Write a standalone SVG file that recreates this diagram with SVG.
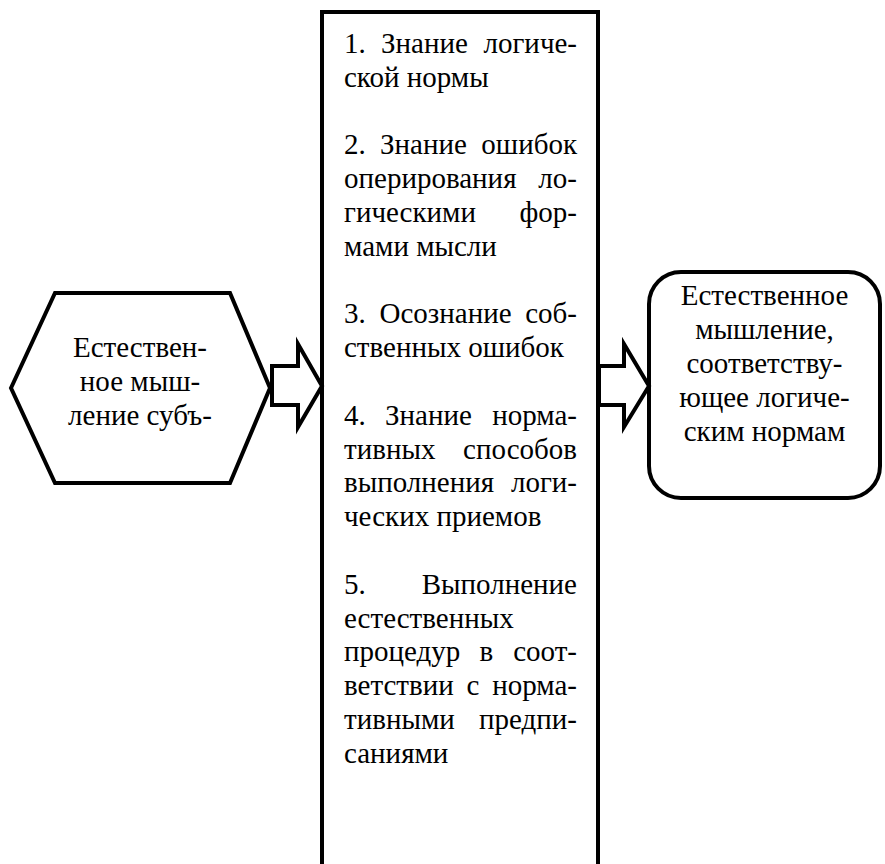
<svg xmlns="http://www.w3.org/2000/svg" width="885" height="864" viewBox="0 0 885 864">
<style>
.shape{fill:#fff;stroke:#000;stroke-width:4;stroke-linejoin:miter}
.t{font-family:"Liberation Serif","Times New Roman",serif;font-size:29px;fill:#000}
.c{text-anchor:middle}
.e{text-anchor:end}
</style>
<rect width="885" height="864" fill="#fff"/>
<g id="node-subject">
<polygon class="shape" points="11,388 55,293 230,293 270,388 230,483 55,483"/>
<text class="t c" x="140" y="357">Естествен-</text>
<text class="t c" x="140" y="391">ное мыш-</text>
<text class="t c" x="140" y="425">ление субъ-</text>
</g>
<g id="node-steps">
<rect class="shape" x="322" y="12" width="276" height="880"/>
<text class="t" x="344" y="53">1.</text><text class="t" x="381" y="53">Знание</text><text class="t e" x="577" y="53">логиче-</text>
<text class="t" x="344" y="86.8">ской нормы</text>
<text class="t" x="344" y="154.4">2.</text><text class="t" x="380" y="154.4">Знание</text><text class="t e" x="577" y="154.4">ошибок</text>
<text class="t" x="344" y="188.2">оперирования</text><text class="t e" x="577" y="188.2">ло-</text>
<text class="t" x="344" y="222">гическими</text><text class="t e" x="577" y="222">фор-</text>
<text class="t" x="344" y="255.8">мами мысли</text>
<text class="t" x="344" y="323.4">3.</text><text class="t" x="379.5" y="323.4">Осознание</text><text class="t e" x="577" y="323.4">соб-</text>
<text class="t" x="344" y="357.2">ственных ошибок</text>
<text class="t" x="344" y="424.8">4.</text><text class="t" x="385" y="424.8">Знание</text><text class="t e" x="577" y="424.8">норма-</text>
<text class="t" x="344" y="458.6">тивных</text><text class="t e" x="577" y="458.6">способов</text>
<text class="t" x="344" y="492.4">выполнения</text><text class="t e" x="577" y="492.4">логи-</text>
<text class="t" x="344" y="526.2">ческих приемов</text>
<text class="t" x="344" y="593.8">5.</text><text class="t e" x="577" y="593.8">Выполнение</text>
<text class="t" x="344" y="627.6">естественных</text>
<text class="t" x="344" y="661.4">процедур</text><text class="t" x="479.5" y="661.4">в</text><text class="t e" x="577" y="661.4">соот-</text>
<text class="t" x="344" y="695.2">ветствии</text><text class="t" x="466.5" y="695.2">с</text><text class="t e" x="577" y="695.2">норма-</text>
<text class="t" x="344" y="729">тивными</text><text class="t e" x="577" y="729">предпи-</text>
<text class="t" x="344" y="762.8">саниями</text>
</g>
<g id="node-result">
<rect class="shape" x="649" y="272" width="231" height="226" rx="32" ry="32"/>
<text class="t c" x="764.5" y="305">Естественное</text>
<text class="t c" x="764.5" y="339">мышление,</text>
<text class="t c" x="764.5" y="373">соответству-</text>
<text class="t c" x="764.5" y="407">ющее логиче-</text>
<text class="t c" x="764.5" y="441">ским нормам</text>
</g>
<g id="connectors">
<polygon class="shape" points="272,366 298,366 298,344 322,386 298,427 298,405 272,405"/>
<polygon class="shape" points="599,366 624,366 624,344 649,386 624,427 624,405 599,405"/>
</g>
</svg>
